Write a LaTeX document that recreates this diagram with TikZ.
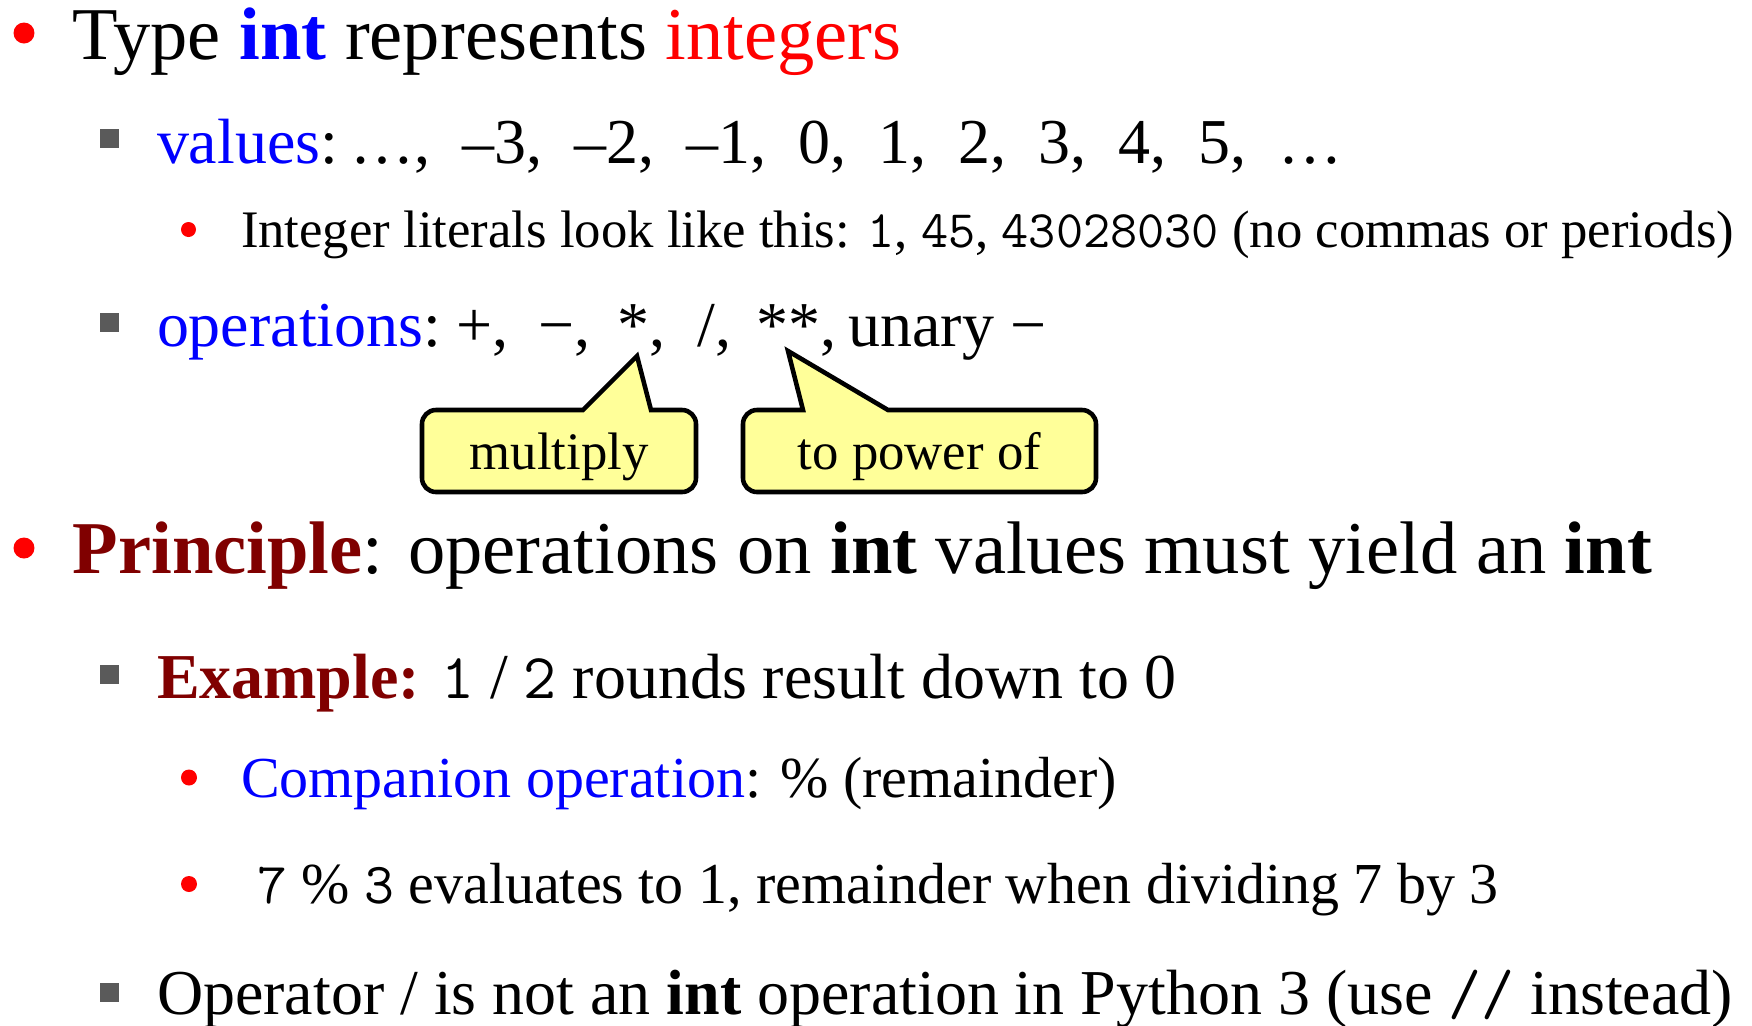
\documentclass[tikz,border=0pt]{standalone}
\usepackage{fontspec}
\setmainfont{Liberation Serif}
\usepackage{xcolor}
\definecolor{darkred}{HTML}{800000}
\definecolor{bulgray}{HTML}{5A5A5A}
\definecolor{tipyellow}{HTML}{FFFF99}
\newcommand{\code}[1]{{\ttfamily #1}}
\newcommand{\szone}{\fontsize{21.2pt}{25pt}\selectfont}
\newcommand{\sztwo}{\fontsize{18.2pt}{22pt}\selectfont}
\newcommand{\szthree}{\fontsize{16.5pt}{20pt}\selectfont}
\newcommand{\szlit}{\fontsize{15pt}{18pt}\selectfont}

\begin{document}
\begin{tikzpicture}[x=0.1mm,y=-0.1mm,
    txt/.style={anchor=base west,inner sep=0pt,outer sep=0pt},
    dot/.style={circle,fill=red,inner sep=0pt},
    sq/.style={rectangle,fill=bulgray,inner sep=0pt,minimum size=1.9mm},
    bubble/.style={draw=black,line width=1.3pt,fill=tipyellow,line join=miter}]
    \useasboundingbox (0,0) rectangle (1752,1026);

    \node (b1) at (24,33) [dot,minimum size=2.1mm] {};
    \node (l1) at (73,59) [txt,font=\szone] {Type \textcolor{blue}{\textbf{int}} represents \textcolor{red}{integers}};

    \node (b2) at (109.5,138.5) [sq] {};
    \node (l2) at (157,163) [txt,font=\sztwo] {\textcolor{blue}{values}:\hspace{0.2em}…,\ \ --3,\ \ --2,\ \ --1,\ \ 0,\ \ 1,\ \ 2,\ \ 3,\ \ 4,\ \ 5,\ \ …};

    \node (b3) at (188.5,229.5) [dot,minimum size=1.5mm] {};
    \node (l3) at (241,247) [txt,font=\szlit] {Integer literals look like this: \code{1}, \code{45}, \code{43028030} (no commas or periods)};

    \node (b4) at (109.5,322.5) [sq] {};
    \node (l4) at (157,346) [txt,font=\sztwo] {\textcolor{blue}{operations}:\hspace{0.24em}+,\hspace{0.47em}−,\hspace{0.42em}*,\hspace{0.5em}/,\hspace{0.39em}**,\hspace{0.19em}unary −};

    \draw[bubble] (583,410) -- (637,356) -- (651,410) -- (682,410)
        arc[start angle=-90,end angle=0,radius=14] -- (696,478)
        arc[start angle=0,end angle=90,radius=14] -- (436,492)
        arc[start angle=90,end angle=180,radius=14] -- (422,424)
        arc[start angle=180,end angle=270,radius=14] -- cycle;
    \node (mul) at (559,469) [anchor=base,inner sep=0pt,font=\szlit] {multiply};

    \draw[bubble] (803,410) -- (788,351) -- (888,410) -- (1082,410)
        arc[start angle=-90,end angle=0,radius=14] -- (1096,478)
        arc[start angle=0,end angle=90,radius=14] -- (757,492)
        arc[start angle=90,end angle=180,radius=14] -- (743,424)
        arc[start angle=180,end angle=270,radius=14] -- cycle;
    \node (pow) at (919.5,469) [anchor=base,inner sep=0pt,font=\szlit] {to power of};

    \node (b5) at (24,548) [dot,minimum size=2.1mm] {};
    \node (l5) at (73,573) [txt,font=\szone] {\textcolor{darkred}{\textbf{Principle}}: operations on \textbf{int} values must yield an \textbf{int}};

    \node (b6) at (109.5,674.5) [sq] {};
    \node (l6) at (157,698) [txt,font=\sztwo] {\textcolor{darkred}{\textbf{Example:}} \code{1} / \code{2} rounds result down to 0};

    \node (b7) at (189,777.5) [dot,minimum size=1.6mm] {};
    \node (l7) at (241,797) [txt,font=\szthree] {\textcolor{blue}{Companion operation}: \% (remainder)};

    \node (b8) at (189,884) [dot,minimum size=1.6mm] {};
    \node (l8) at (257,903) [txt,font=\szthree] {\code{7} \% \code{3} evaluates to 1, remainder when dividing 7 by 3};

    \node (b9) at (109.5,992.5) [sq] {};
    \node (l9) at (157,1014) [txt,font=\sztwo] {Operator / is not an \textbf{int} operation in Python 3 (use \code{//} instead)};
\end{tikzpicture}
\end{document}
